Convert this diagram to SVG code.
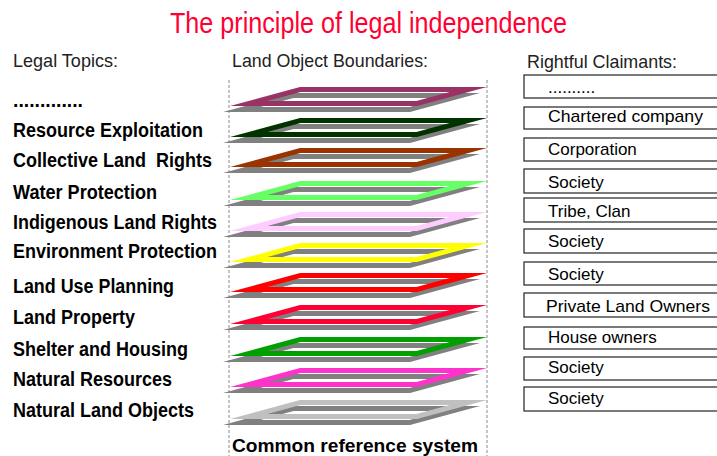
<svg xmlns="http://www.w3.org/2000/svg" xmlns:xlink="http://www.w3.org/1999/xlink" width="717" height="456" viewBox="0 0 717 456">
<style>
.title{font-family:"Liberation Sans",Arial,sans-serif;font-size:30px;fill:#ff0033}
.head{font-family:"Liberation Sans",Arial,sans-serif;font-size:19px;fill:#222}
.topic{font-family:"Liberation Sans",Arial,sans-serif;font-size:20px;font-weight:bold;fill:#000}
.claim{font-family:"Liberation Sans",Arial,sans-serif;font-size:17px;fill:#000}
.box{fill:#fff;stroke:#333;stroke-width:1.3}
.axis{stroke:#888;stroke-width:1;stroke-dasharray:3 2;fill:none}
.shadow{fill:#808080}
</style>
<defs>
<path id="para" fill-rule="evenodd" d="M300,87 H487 L417,106 H230 Z M300.6,92 L267.4,101 H416.4 L449.6,92 Z"/>
</defs>
<rect width="717" height="456" fill="#fff"/>
<text class="title" x="170" y="33" textLength="397" lengthAdjust="spacingAndGlyphs">The principle of legal independence</text>
<text class="head" x="13" y="67" textLength="105" lengthAdjust="spacingAndGlyphs">Legal Topics:</text>
<text class="head" x="232" y="67" textLength="196" lengthAdjust="spacingAndGlyphs">Land Object Boundaries:</text>
<text class="head" x="527" y="68" textLength="150" lengthAdjust="spacingAndGlyphs">Rightful Claimants:</text>
<g id="topics">
<text class="topic" x="13" y="107" textLength="70" lengthAdjust="spacingAndGlyphs">.............</text>
<text class="topic" x="13" y="137" textLength="190" lengthAdjust="spacingAndGlyphs">Resource Exploitation</text>
<text class="topic" x="13" y="167" textLength="199" lengthAdjust="spacingAndGlyphs" xml:space="preserve">Collective Land  Rights</text>
<text class="topic" x="13" y="199" textLength="144" lengthAdjust="spacingAndGlyphs">Water Protection</text>
<text class="topic" x="13" y="229" textLength="204" lengthAdjust="spacingAndGlyphs">Indigenous Land Rights</text>
<text class="topic" x="13" y="258" textLength="204" lengthAdjust="spacingAndGlyphs">Environment Protection</text>
<text class="topic" x="13" y="293" textLength="161" lengthAdjust="spacingAndGlyphs">Land Use Planning</text>
<text class="topic" x="13" y="324" textLength="122" lengthAdjust="spacingAndGlyphs">Land Property</text>
<text class="topic" x="13" y="356" textLength="175" lengthAdjust="spacingAndGlyphs">Shelter and Housing</text>
<text class="topic" x="13" y="386" textLength="159" lengthAdjust="spacingAndGlyphs">Natural Resources</text>
<text class="topic" x="13" y="417" textLength="181" lengthAdjust="spacingAndGlyphs">Natural Land Objects</text>
</g>
<g id="axes">
<line class="axis" x1="229" y1="80" x2="229" y2="456"/>
<line class="axis" x1="487" y1="80" x2="487" y2="456"/>
</g>
<g id="layers">
<g id="layer1" transform="translate(0,0)"><use xlink:href="#para" class="shadow" transform="translate(-7,6)"/><use xlink:href="#para" fill="#993366"/></g>
<g id="layer2" transform="translate(0,31)"><use xlink:href="#para" class="shadow" transform="translate(-7,6)"/><use xlink:href="#para" fill="#003300"/></g>
<g id="layer3" transform="translate(0,61)"><use xlink:href="#para" class="shadow" transform="translate(-7,6)"/><use xlink:href="#para" fill="#993300"/></g>
<g id="layer4" transform="translate(0,94)"><use xlink:href="#para" class="shadow" transform="translate(-7,6)"/><use xlink:href="#para" fill="#66ff66"/></g>
<g id="layer5" transform="translate(0,125)"><use xlink:href="#para" class="shadow" transform="translate(-7,6)"/><use xlink:href="#para" fill="#ffccff"/></g>
<g id="layer6" transform="translate(0,156)"><use xlink:href="#para" class="shadow" transform="translate(-7,6)"/><use xlink:href="#para" fill="#ffff00"/></g>
<g id="layer7" transform="translate(0,186)"><use xlink:href="#para" class="shadow" transform="translate(-7,6)"/><use xlink:href="#para" fill="#ff0000"/></g>
<g id="layer8" transform="translate(0,218)"><use xlink:href="#para" class="shadow" transform="translate(-7,6)"/><use xlink:href="#para" fill="#ff0033"/></g>
<g id="layer9" transform="translate(0,250)"><use xlink:href="#para" class="shadow" transform="translate(-7,6)"/><use xlink:href="#para" fill="#00a000"/></g>
<g id="layer10" transform="translate(0,281)"><use xlink:href="#para" class="shadow" transform="translate(-7,6)"/><use xlink:href="#para" fill="#ff33cc"/></g>
<g id="layer11" transform="translate(0,313)"><use xlink:href="#para" class="shadow" transform="translate(-7,6)"/><use xlink:href="#para" fill="#c0c0c0"/></g>
</g>
<text class="topic" x="232" y="452" font-size="19" textLength="246" lengthAdjust="spacingAndGlyphs" style="font-size:19px">Common reference system</text>
<g id="claimants">
<g id="c1"><rect class="box" x="524" y="75" width="200" height="23"/><text class="claim" x="548" y="93">..........</text></g>
<g id="c2"><rect class="box" x="524" y="107" width="200" height="22"/><text class="claim" x="548" y="122" textLength="155" lengthAdjust="spacingAndGlyphs">Chartered company</text></g>
<g id="c3"><rect class="box" x="524" y="138" width="200" height="23"/><text class="claim" x="548" y="155">Corporation</text></g>
<g id="c4"><rect class="box" x="524" y="169" width="200" height="24"/><text class="claim" x="548" y="188">Society</text></g>
<g id="c5"><rect class="box" x="524" y="198" width="200" height="24"/><text class="claim" x="548" y="217">Tribe, Clan</text></g>
<g id="c6"><rect class="box" x="524" y="229" width="200" height="24"/><text class="claim" x="548" y="247">Society</text></g>
<g id="c7"><rect class="box" x="524" y="262" width="200" height="23"/><text class="claim" x="548" y="280">Society</text></g>
<g id="c8"><rect class="box" x="524" y="293" width="200" height="24"/><text class="claim" x="546" y="312" textLength="164" lengthAdjust="spacingAndGlyphs">Private Land Owners</text></g>
<g id="c9"><rect class="box" x="524" y="327" width="200" height="22"/><text class="claim" x="548" y="343">House owners</text></g>
<g id="c10"><rect class="box" x="524" y="357" width="200" height="23"/><text class="claim" x="548" y="373">Society</text></g>
<g id="c11"><rect class="box" x="524" y="387" width="200" height="24"/><text class="claim" x="548" y="404">Society</text></g>
</g>
</svg>
